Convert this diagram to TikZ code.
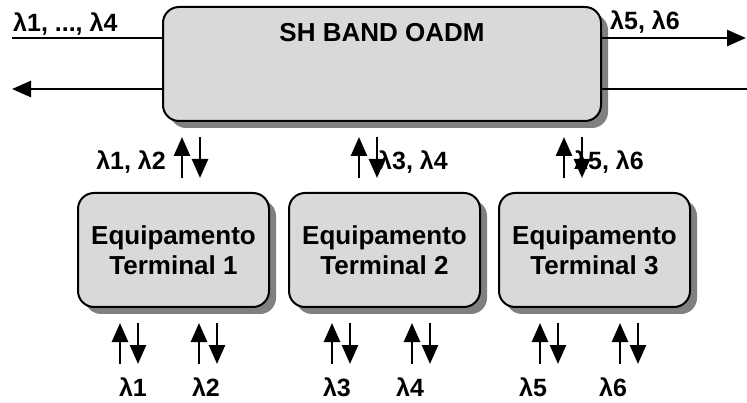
\documentclass[tikz,border=0pt]{standalone}
\usepackage{fontspec}
\setmainfont{Liberation Sans}
\usetikzlibrary{arrows.meta,positioning,shadows}
\definecolor{BoxGray}{HTML}{D9D9D9}
\definecolor{ShadeGray}{HTML}{808080}
\tikzset{
  BX/.style={rectangle,rounded corners=16pt,draw=black,line width=2pt,
             fill=BoxGray,inner sep=0pt,
             drop shadow={shadow xshift=7pt,shadow yshift=-7pt,
                          fill=ShadeGray,opacity=1}},
  OB/.style={BX,minimum width=438pt,minimum height=114pt},
  EB/.style={BX,minimum width=191pt,minimum height=114pt,
             text centered,align=center,
             font=\fontsize{26}{30}\selectfont\bfseries},
  TT/.style={font=\fontsize{26}{30}\selectfont\bfseries,inner sep=0pt},
  LB/.style={font=\fontsize{25}{30}\selectfont\bfseries,inner sep=0pt},
  arr/.style={-{Triangle[length=19pt,width=16pt]},line width=2.6pt},
  ln/.style={line width=2.6pt}
}

\begin{document}
\begin{tikzpicture}[x=1pt,y=-1pt]
  \useasboundingbox (0,0) rectangle (747,403);

  % OADM and the ring fibres
  \node[OB] (oadm) at (382,64) {};
  \node[TT,anchor=base] (title) at (382,42) {SH BAND OADM};
  \coordinate (inL) at (12,38);
  \coordinate (outL) at (12,89);
  \coordinate (outR) at (746,38);
  \coordinate (inR) at (747,89);
  \draw[ln](inL)--(inL -| oadm.west);
  \draw[arr](oadm.west |- outL)--(outL);
  \draw[arr](oadm.east |- outR)--(outR);
  \draw[ln](oadm.east |- inR)--(inR);
  \node[LB,anchor=base west] (lin) at (13,32) {λ1, ..., λ4};
  \node[LB,anchor=base west] (lout) at (610,30) {λ5, λ6};

  % terminals
  \node[EB] (eq1) at (173.5,250) {Equipamento\\Terminal 1};
  \node[EB,right=18pt of eq1] (eq2) {Equipamento\\Terminal 2};
  \node[EB,right=17pt of eq2] (eq3) {Equipamento\\Terminal 3};

  % add/drop between OADM and terminals
  \coordinate (m1t) at (182,137); \coordinate (m1b) at (182,178);
  \coordinate (m2t) at (359,137); \coordinate (m2b) at (359,178);
  \coordinate (m3t) at (564,137); \coordinate (m3b) at (564,178);
  \draw[arr](m1b)--(m1t);
  \draw[arr]([xshift=18pt]m1t)--([xshift=18pt]m1b);
  \draw[arr](m2b)--(m2t);
  \draw[arr]([xshift=18pt]m2t)--([xshift=18pt]m2b);
  \draw[arr](m3b)--(m3t);
  \draw[arr]([xshift=18pt]m3t)--([xshift=18pt]m3b);
  \node[LB,anchor=base east] (l12) at (166,170) {λ1, λ2};
  \node[LB,anchor=base west] (l34) at (378,170) {λ3, λ4};
  \node[LB,anchor=base west] (l56) at (574,170) {λ5, λ6};

  % client side
  \coordinate (b1t) at (120,323); \coordinate (b1b) at (120,364);
  \coordinate (b2t) at (199,323); \coordinate (b2b) at (199,364);
  \coordinate (b3t) at (332,323); \coordinate (b3b) at (332,364);
  \coordinate (b4t) at (412,323); \coordinate (b4b) at (412,364);
  \coordinate (b5t) at (540,323); \coordinate (b5b) at (540,364);
  \coordinate (b6t) at (620,323); \coordinate (b6b) at (620,364);
  \draw[arr](b1b)--(b1t); \draw[arr]([xshift=18pt]b1t)--([xshift=18pt]b1b);
  \draw[arr](b2b)--(b2t); \draw[arr]([xshift=18pt]b2t)--([xshift=18pt]b2b);
  \draw[arr](b3b)--(b3t); \draw[arr]([xshift=18pt]b3t)--([xshift=18pt]b3b);
  \draw[arr](b4b)--(b4t); \draw[arr]([xshift=18pt]b4t)--([xshift=18pt]b4b);
  \draw[arr](b5b)--(b5t); \draw[arr]([xshift=18pt]b5t)--([xshift=18pt]b5b);
  \draw[arr](b6b)--(b6t); \draw[arr]([xshift=18pt]b6t)--([xshift=18pt]b6b);
  \node[LB,anchor=base] (w1) at (133,396) {λ1};
  \node[LB,anchor=base] (w2) at (206,396) {λ2};
  \node[LB,anchor=base] (w3) at (337,396) {λ3};
  \node[LB,anchor=base] (w4) at (410,396) {λ4};
  \node[LB,anchor=base] (w5) at (533,396) {λ5};
  \node[LB,anchor=base] (w6) at (613,396) {λ6};
\end{tikzpicture}
\end{document}
